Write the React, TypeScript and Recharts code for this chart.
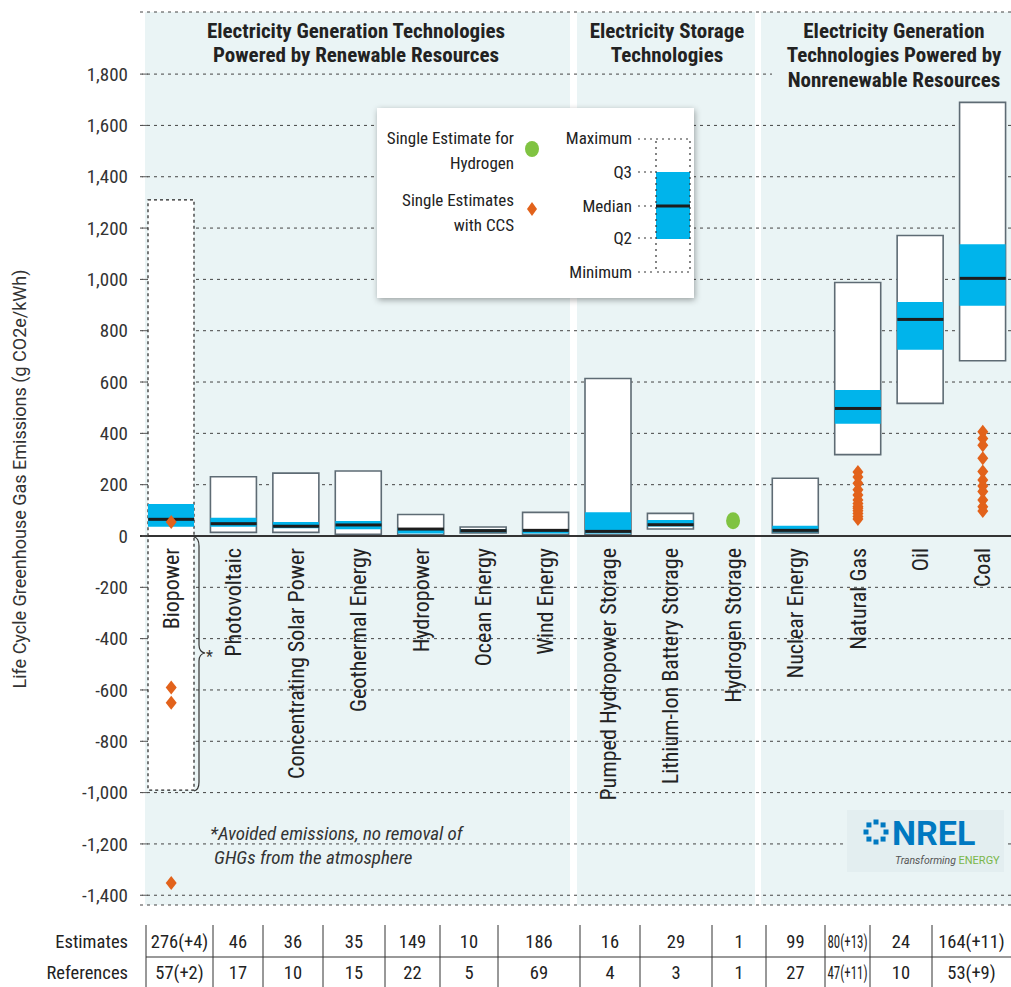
import React from 'react';
import { ComposedChart, Bar, Scatter, XAxis, YAxis, CartesianGrid, ReferenceLine, Cell } from 'recharts';

const categories = [
  'Biopower', 'Photovoltaic', 'Concentrating Solar Power', 'Geothermal Energy', 'Hydropower',
  'Ocean Energy', 'Wind Energy', 'Pumped Hydropower Storage', 'Lithium-Ion Battery Storage',
  'Hydrogen Storage', 'Nuclear Energy', 'Natural Gas', 'Oil', 'Coal',
];
const minimums = [-990, 14, 14, 7, 5, 12, 6, 6, 27, null, 12, 317, 517, 683];
const q2s = [36, 36, 30, 26, 10, 15, 10, 10, 37, null, 15, 437, 726, 897];
const medians = [65, 48, 38, 43, 27, 21, 22, 18, 44, null, 22, 497, 844, 1004];
const q3s = [125, 71, 55, 58, 31, 26, 26, 93, 62, null, 40, 569, 912, 1137];
const maximums = [1310, 231, 245, 253, 84, 35, 92, 614, 88, null, 225, 988, 1171, 1690];

const ccsBiopower = [55, -590, -650, -1352];
const ccsNaturalGas = [249, 230, 206, 180, 160, 140, 127, 115, 108, 98, 88, 76, 66];
const ccsCoal = [406, 380, 354, 303, 251, 218, 195, 173, 140, 114, 97];
const hydrogenEstimate = [59];

const estimates = ['276(+4)', '46', '36', '35', '149', '10', '186', '16', '29', '1', '99', '80(+13)', '24', '164(+11)'];
const references = ['57(+2)', '17', '10', '15', '22', '5', '69', '4', '3', '1', '27', '47(+11)', '10', '53(+9)'];

const yTicks = [-1400, -1200, -1000, -800, -600, -400, -200, 0, 200, 400, 600, 800, 1000, 1200, 1400, 1600, 1800];
const Y_MIN = -1438;
const Y_MAX = 2042;

const FONT = "'Roboto Condensed', 'Liberation Sans Narrow', 'DejaVu Sans Condensed', 'Roboto', sans-serif";
const TEAL = '#eaf4f5';
const BLUE = '#00b4eb';
const ORANGE = '#e2621b';
const GREEN = '#80c342';

// layout
const PLOT_TOP = 12;
const PLOT_BOTTOM = 905;
const zeroY = PLOT_TOP + (Y_MAX / (Y_MAX - Y_MIN)) * (PLOT_BOTTOM - PLOT_TOP);
const tablePos = [146, 213, 263, 323, 385, 440, 498, 580, 640, 712, 766, 825, 870, 932, 1011];
const TABLE_FS = 18.5;

const tickPositions = categories.map((_, i) => i + 0.5);

const rows = categories.map((name, i) => ({
  name,
  x: i + 0.5,
  range: maximums[i] == null ? null : [minimums[i], maximums[i]],
  iqr: q3s[i] == null ? null : [q2s[i], q3s[i]],
}));

const idx = (name: string) => categories.indexOf(name) + 0.5;
const medianPoints = categories.flatMap((_, i) => (medians[i] == null ? [] : [{ x: i + 0.5, y: medians[i] }]));
const ccsPoints = [
  ...ccsBiopower.map((y) => ({ x: idx('Biopower'), y })),
  ...ccsNaturalGas.map((y) => ({ x: idx('Natural Gas'), y })),
  ...ccsCoal.map((y) => ({ x: idx('Coal'), y })),
];
const hydrogenPoints = hydrogenEstimate.map((y) => ({ x: idx('Hydrogen Storage'), y }));

const fmt = (v: number) => v.toLocaleString('en-US');

const YTick = (props: any) => {
  const { y, payload } = props;
  return (
    <g>
      <line x1={142} x2={148} y1={y} y2={y} stroke="#555" strokeWidth={1} />
      <text x={128} y={y} dy="0.35em" textAnchor="end" fontSize={19} fill="#333" fontFamily={FONT}>
        {fmt(payload.value)}
      </text>
    </g>
  );
};

const XTick = (props: any) => {
  const { x, payload } = props;
  const label = categories[Math.floor(payload.value)];
  const y = zeroY + 12;
  return (
    <text x={x} y={y} dy="0.35em" textAnchor="end" fontSize={22} fill="#222" fontFamily={FONT}
      transform={`rotate(-90, ${x}, ${y})`}>
      {label}
    </text>
  );
};

const MedianShape = (props: any) => (
  <rect x={props.cx - 23} y={props.cy - 1.5} width={46} height={3} fill="#1d1d1d" />
);
const DiamondShape = (props: any) => (
  <path d={`M${props.cx},${props.cy - 7} L${props.cx + 5.5},${props.cy} L${props.cx},${props.cy + 7} L${props.cx - 5.5},${props.cy} Z`} fill={ORANGE} />
);
const DotShape = (props: any) => <ellipse cx={props.cx} cy={props.cy} rx={7} ry={8.5} fill={GREEN} />;

const Background = () => (
  <svg width={1011} height={987} style={{ position: 'absolute', left: 0, top: 0 }}>
    <rect x={145} y={PLOT_TOP} width={425} height={PLOT_BOTTOM - PLOT_TOP} fill={TEAL} />
    <rect x={577} y={PLOT_TOP} width={178} height={PLOT_BOTTOM - PLOT_TOP} fill={TEAL} />
    <rect x={761} y={PLOT_TOP} width={260} height={PLOT_BOTTOM - PLOT_TOP} fill={TEAL} />
  </svg>
);

const ringAngles = [0, 45, 90, 135, 180, 225, 270, 315];

const TableCell = ({ text, i, y }: { text: string; i: number; y: number }) => {
  const w = tablePos[i + 1] - tablePos[i] - 5;
  const est = text.length * 0.47 * TABLE_FS;
  return (
    <text x={(tablePos[i] + tablePos[i + 1]) / 2} y={y} textAnchor="middle"
      textLength={est > w ? w : undefined} lengthAdjust="spacingAndGlyphs">
      {text}
    </text>
  );
};

const Overlay = () => (
  <svg width={1011} height={987} style={{ position: 'absolute', left: 0, top: 0, pointerEvents: 'none' }} fontFamily={FONT}>
    <defs>
      <filter id="shadow" x="-10%" y="-10%" width="120%" height="130%">
        <feDropShadow dx={1} dy={2} stdDeviation={3} floodOpacity={0.35} />
      </filter>
    </defs>

    {/* section headers */}
    <g fontWeight="bold" fontSize={21} fill="#222" textAnchor="middle">
      <text x={356} y={38}>Electricity Generation Technologies</text>
      <text x={356} y={62}>Powered by Renewable Resources</text>
      <text x={667} y={38}>Electricity Storage</text>
      <text x={667} y={62}>Technologies</text>
      <rect x={772} y={64} width={240} height={24} fill={TEAL} />
      <text x={894} y={38}>Electricity Generation</text>
      <text x={894} y={62}>Technologies Powered by</text>
      <text x={894} y={87}>Nonrenewable Resources</text>
    </g>

    {/* y axis title */}
    <text x={20} y={479} transform="rotate(-90, 20, 479)" textAnchor="middle" dy="0.35em" fontSize={18} fill="#333"
      fontFamily="Roboto, sans-serif">
      Life Cycle Greenhouse Gas Emissions (g CO2e/kWh)
    </text>

    {/* legend */}
    <rect x={377} y={108} width={317} height={190} fill="#fff" filter="url(#shadow)" />
    <g fontSize={17} fill="#222" textAnchor="end">
      <text x={514} y={144}>Single Estimate for</text>
      <text x={514} y={169}>Hydrogen</text>
      <text x={514} y={206}>Single Estimates</text>
      <text x={514} y={231}>with CCS</text>
      <text x={632} y={144}>Maximum</text>
      <text x={632} y={178}>Q3</text>
      <text x={632} y={212}>Median</text>
      <text x={632} y={244}>Q2</text>
      <text x={632} y={278}>Minimum</text>
    </g>
    <ellipse cx={532} cy={149} rx={7} ry={8} fill={GREEN} />
    <path d="M532,202 L537,209 L532,216 L527,209 Z" fill={ORANGE} />
    <g stroke="#333" strokeWidth={1.2} strokeDasharray="2 4">
      <line x1={638} x2={656} y1={139} y2={139} />
      <line x1={638} x2={656} y1={172} y2={172} />
      <line x1={638} x2={656} y1={206} y2={206} />
      <line x1={638} x2={656} y1={238} y2={238} />
      <line x1={638} x2={656} y1={272} y2={272} />
    </g>
    <rect x={656} y={172} width={34} height={67} fill={BLUE} />
    <rect x={656} y={139} width={34} height={133} fill="none" stroke="#333" strokeWidth={1.2} strokeDasharray="2 4" />
    <rect x={656} y={204.5} width={34} height={3} fill="#1d1d1d" />

    {/* brace for biopower */}
    <path d="M194,537 Q199,538 199,546 L199,645 Q199,652 205,653 Q199,654 199,661 L199,782 Q199,790 194,791"
      fill="none" stroke="#333" strokeWidth={1.2} />
    <text x={206} y={662} fontSize={16} fill="#333">*</text>

    {/* footnote */}
    <g fontSize={19} fill="#333" fontStyle="italic">
      <text x={210} y={840}>*Avoided emissions, no removal of</text>
      <text x={214} y={864}>GHGs from the atmosphere</text>
    </g>

    {/* NREL logo */}
    <rect x={847} y={810} width={157} height={62} fill="#e3eef0" />
    {ringAngles.map((a) => (
      <rect key={a} x={876 + 10 * Math.cos((a * Math.PI) / 180) - 2.5} y={832 + 10 * Math.sin((a * Math.PI) / 180) - 2.5}
        width={5} height={5} fill="#0079c1" />
    ))}
    <text x={892} y={845} fontSize={34} fontWeight="bold" fill="#0079c1" fontFamily="Roboto, sans-serif">NREL</text>
    <text x={895} y={864} fontSize={10.5} fontStyle="italic" fill="#555" fontFamily="Roboto, sans-serif">
      Transforming <tspan fill="#7ab648" fontStyle="normal" fontSize={11}>ENERGY</tspan>
    </text>

    {/* table */}
    <g fontSize={TABLE_FS} fill="#222">
      <text x={128} y={948} textAnchor="end">Estimates</text>
      <text x={128} y={979} textAnchor="end">References</text>
      {estimates.map((t, i) => <TableCell key={'e' + i} text={t} i={i} y={948} />)}
      {references.map((t, i) => <TableCell key={'r' + i} text={t} i={i} y={979} />)}
    </g>
    <line x1={146} x2={1011} y1={957} y2={957} stroke="#999" strokeWidth={2} />
    {tablePos.slice(0, -1).map((p) => (
      <line key={p} x1={p} x2={p} y1={925} y2={987} stroke="#333" strokeWidth={1} />
    ))}
  </svg>
);

export default function App() {
  return (
    <div style={{ position: 'fixed', left: 0, top: 0, width: 1011, height: 987, overflow: 'hidden', background: '#fff' }}>
      <Background />
      <div style={{ position: 'absolute', left: 0, top: 0 }}>
        <ComposedChart width={1030} height={987} data={rows}
          margin={{ top: PLOT_TOP, right: 16, left: 0, bottom: 987 - PLOT_BOTTOM - 30 }}>
          <CartesianGrid vertical={false} stroke="#444" strokeDasharray="3 4" />
          <XAxis type="number" dataKey="x" domain={[0, 14]} ticks={tickPositions} interval={0}
            tick={XTick} axisLine={false} tickLine={false} height={30} />
          <XAxis xAxisId="iqr" type="number" dataKey="x" domain={[0, 14]} ticks={tickPositions} hide />
          <YAxis type="number" domain={[Y_MIN, Y_MAX]} ticks={yTicks} interval={0} allowDataOverflow
            width={140} tick={YTick} axisLine={false} tickLine={false} />
          <ReferenceLine y={0} stroke="#333" strokeWidth={2} />
          <Bar dataKey="range" barSize={46} fill="#fff" stroke="#5e6b74" strokeWidth={1.6} isAnimationActive={false}>
            {rows.map((r, i) => (
              <Cell key={r.name} stroke={i === 0 ? '#222' : '#5e6b74'} strokeWidth={i === 0 ? 1.2 : 1.6}
                strokeDasharray={i === 0 ? '3 3' : undefined} />
            ))}
          </Bar>
          <Bar xAxisId="iqr" dataKey="iqr" barSize={46} fill={BLUE} isAnimationActive={false} />
          <Scatter data={medianPoints} dataKey="y" shape={MedianShape} isAnimationActive={false} />
          <Scatter data={ccsPoints} dataKey="y" shape={DiamondShape} isAnimationActive={false} />
          <Scatter data={hydrogenPoints} dataKey="y" shape={DotShape} isAnimationActive={false} />
        </ComposedChart>
      </div>
      <Overlay />
    </div>
  );
}
